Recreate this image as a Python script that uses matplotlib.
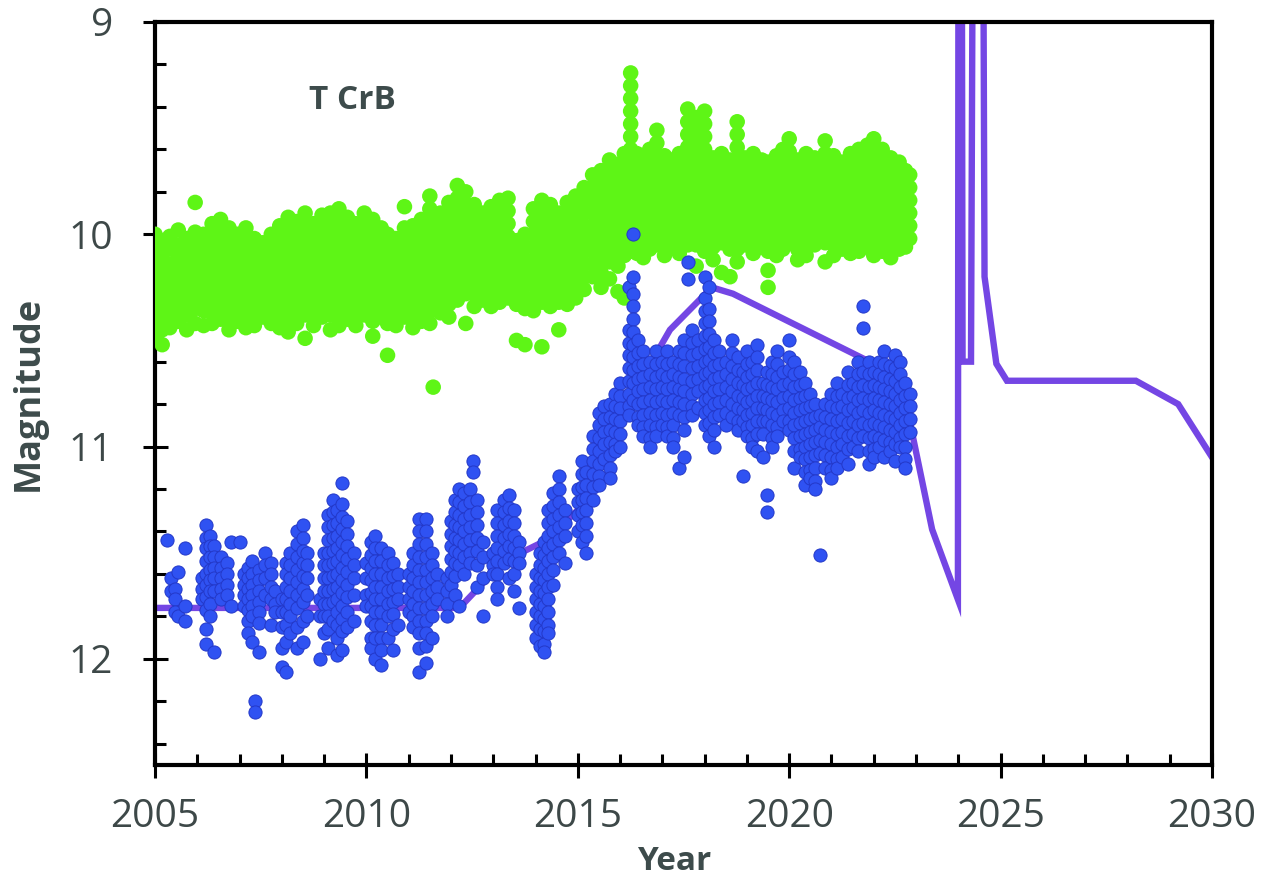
import matplotlib
matplotlib.use("Agg")
import matplotlib.pyplot as plt
from matplotlib.ticker import MultipleLocator, FixedLocator
import numpy as np

# ---------------- data ----------------
# Green series: observation epochs (columns) and the magnitudes seen in each column
green_years = [
    2005.00, 2005.17, 2005.35, 2005.55, 2005.75, 2005.95, 2006.15, 2006.35, 2006.55, 2006.75,
    2006.95, 2007.15, 2007.35, 2007.55, 2007.75, 2007.95, 2008.15, 2008.35, 2008.55, 2008.75,
    2008.95, 2009.15, 2009.35, 2009.55, 2009.75, 2009.95, 2010.15, 2010.35, 2010.50, 2010.70,
    2010.90, 2011.10, 2011.30, 2011.50, 2011.58, 2011.75, 2011.95, 2012.15, 2012.35, 2012.55,
    2012.75, 2012.95, 2013.15, 2013.35, 2013.55, 2013.75, 2013.95, 2014.15, 2014.35, 2014.55,
    2014.75, 2014.95, 2015.15, 2015.35, 2015.55, 2015.75, 2015.95, 2016.10, 2016.25, 2016.40,
    2016.55, 2016.70, 2016.87, 2017.05, 2017.20, 2017.40, 2017.60, 2017.80, 2018.00, 2018.20,
    2018.40, 2018.60, 2018.77, 2018.95, 2019.15, 2019.35, 2019.50, 2019.70, 2019.85, 2020.00,
    2020.20, 2020.40, 2020.60, 2020.85, 2021.05, 2021.25, 2021.45, 2021.65, 2021.85, 2022.00,
    2022.20, 2022.40, 2022.60, 2022.75, 2022.85,
]
green_mags = [
    [10.0, 10.06, 10.12, 10.18, 10.24, 10.3, 10.36, 10.42, 10.48],
    [10.03, 10.09, 10.15, 10.21, 10.27, 10.33, 10.39, 10.45, 10.52],
    [10.01, 10.07, 10.14, 10.2, 10.26, 10.32, 10.38, 10.44],
    [9.98, 10.05, 10.11, 10.17, 10.23, 10.29, 10.35, 10.41],
    [10.02, 10.08, 10.14, 10.2, 10.26, 10.32, 10.38, 10.45],
    [9.85, 9.99, 10.05, 10.11, 10.17, 10.23, 10.29, 10.35, 10.42],
    [10.0, 10.06, 10.12, 10.18, 10.24, 10.3, 10.36, 10.43],
    [9.95, 10.01, 10.07, 10.13, 10.19, 10.25, 10.31, 10.37, 10.42],
    [9.93, 9.99, 10.05, 10.11, 10.17, 10.23, 10.29, 10.35, 10.4],
    [9.97, 10.03, 10.09, 10.15, 10.21, 10.27, 10.33, 10.39, 10.45],
    [10.0, 10.06, 10.12, 10.18, 10.24, 10.3, 10.36, 10.41],
    [9.97, 10.03, 10.09, 10.15, 10.21, 10.27, 10.33, 10.39, 10.44],
    [10.02, 10.08, 10.14, 10.2, 10.26, 10.32, 10.38, 10.43],
    [10.04, 10.1, 10.16, 10.22, 10.28, 10.34, 10.39],
    [10.0, 10.06, 10.12, 10.18, 10.24, 10.3, 10.36, 10.42],
    [9.96, 10.02, 10.08, 10.14, 10.2, 10.26, 10.32, 10.38, 10.44],
    [9.92, 9.98, 10.04, 10.1, 10.16, 10.22, 10.28, 10.34, 10.4, 10.46],
    [9.94, 10.0, 10.06, 10.12, 10.18, 10.24, 10.3, 10.36, 10.42],
    [9.9, 9.96, 10.02, 10.08, 10.14, 10.2, 10.26, 10.32, 10.38, 10.49],
    [9.95, 10.01, 10.07, 10.13, 10.19, 10.25, 10.31, 10.37, 10.43],
    [9.91, 9.97, 10.03, 10.09, 10.15, 10.21, 10.27, 10.33, 10.39],
    [9.9, 9.96, 10.02, 10.08, 10.14, 10.2, 10.26, 10.32, 10.38, 10.45],
    [9.88, 9.94, 10.0, 10.06, 10.12, 10.18, 10.24, 10.3, 10.36, 10.43],
    [9.92, 9.98, 10.04, 10.1, 10.16, 10.22, 10.28, 10.34, 10.4],
    [9.95, 10.01, 10.07, 10.13, 10.19, 10.25, 10.31, 10.37, 10.43],
    [9.9, 9.96, 10.02, 10.08, 10.14, 10.2, 10.26, 10.32, 10.38],
    [9.93, 9.99, 10.05, 10.11, 10.17, 10.23, 10.29, 10.35, 10.41, 10.48],
    [9.97, 10.03, 10.09, 10.15, 10.21, 10.27, 10.33, 10.39],
    [10.0, 10.06, 10.12, 10.18, 10.24, 10.3, 10.36, 10.42, 10.57],
    [10.02, 10.08, 10.14, 10.2, 10.26, 10.32, 10.38, 10.43],
    [9.87, 9.97, 10.03, 10.09, 10.15, 10.21, 10.27, 10.33, 10.39],
    [9.96, 10.02, 10.08, 10.14, 10.2, 10.26, 10.32, 10.38, 10.44],
    [9.93, 9.99, 10.05, 10.11, 10.17, 10.23, 10.29, 10.35, 10.41],
    [9.82, 9.88, 9.94, 10.0, 10.06, 10.12, 10.18, 10.24, 10.3, 10.36, 10.42],
    [10.72],
    [9.9, 9.96, 10.02, 10.08, 10.14, 10.2, 10.26, 10.32, 10.37],
    [9.85, 9.91, 9.97, 10.03, 10.09, 10.15, 10.21, 10.27, 10.33, 10.39],
    [9.77, 9.83, 9.89, 9.95, 10.01, 10.07, 10.13, 10.19, 10.25, 10.31],
    [9.8, 9.86, 9.92, 9.98, 10.04, 10.1, 10.16, 10.22, 10.28, 10.42],
    [9.86, 9.92, 9.98, 10.04, 10.1, 10.16, 10.22, 10.28, 10.34],
    [9.9, 9.96, 10.02, 10.08, 10.14, 10.2, 10.26, 10.31],
    [9.87, 9.93, 9.99, 10.05, 10.11, 10.17, 10.23, 10.29, 10.34],
    [9.84, 9.9, 9.96, 10.02, 10.08, 10.14, 10.2, 10.26, 10.32],
    [9.83, 9.89, 9.95, 10.01, 10.07, 10.13, 10.19, 10.25, 10.3],
    [10.03, 10.09, 10.15, 10.21, 10.27, 10.33, 10.5],
    [10.0, 10.06, 10.12, 10.18, 10.24, 10.3, 10.35, 10.52],
    [9.88, 9.94, 10.0, 10.06, 10.12, 10.18, 10.24, 10.3, 10.36],
    [9.84, 9.9, 9.96, 10.02, 10.08, 10.14, 10.2, 10.26, 10.32, 10.53],
    [9.86, 9.92, 9.98, 10.04, 10.1, 10.16, 10.22, 10.28, 10.34],
    [9.9, 9.96, 10.02, 10.08, 10.14, 10.2, 10.26, 10.32, 10.45],
    [9.85, 9.91, 9.97, 10.03, 10.09, 10.15, 10.21, 10.27, 10.33],
    [9.82, 9.88, 9.94, 10.0, 10.06, 10.12, 10.18, 10.24, 10.3],
    [9.78, 9.84, 9.9, 9.96, 10.02, 10.08, 10.14, 10.2, 10.26],
    [9.72, 9.78, 9.84, 9.9, 9.96, 10.02, 10.08, 10.14, 10.2],
    [9.7, 9.76, 9.82, 9.88, 9.94, 10.0, 10.06, 10.12, 10.18, 10.25],
    [9.65, 9.71, 9.77, 9.83, 9.89, 9.95, 10.01, 10.07, 10.13, 10.21],
    [9.67, 9.73, 9.79, 9.85, 9.91, 9.97, 10.03, 10.09, 10.15, 10.27],
    [9.62, 9.68, 9.74, 9.8, 9.86, 9.92, 9.98, 10.04, 10.1, 10.3],
    [9.24, 9.3, 9.36, 9.42, 9.48, 9.54, 9.6, 9.66, 9.72, 9.78, 9.84, 9.9, 9.96, 10.02, 10.08],
    [9.62, 9.68, 9.74, 9.8, 9.86, 9.92, 9.98, 10.04, 10.09],
    [9.64, 9.7, 9.76, 9.82, 9.88, 9.94, 10.0, 10.06, 10.11],
    [9.6, 9.66, 9.72, 9.78, 9.84, 9.9, 9.96, 10.02, 10.07],
    [9.51, 9.57, 9.63, 9.69, 9.75, 9.81, 9.87, 9.93, 9.99, 10.05],
    [9.63, 9.69, 9.75, 9.81, 9.87, 9.93, 9.99, 10.05, 10.1],
    [9.65, 9.71, 9.77, 9.83, 9.89, 9.95, 10.01, 10.06],
    [9.62, 9.68, 9.74, 9.8, 9.86, 9.92, 9.98, 10.04, 10.09],
    [9.41, 9.47, 9.53, 9.59, 9.65, 9.71, 9.77, 9.83, 9.89, 9.95, 10.01, 10.05],
    [9.45, 9.51, 9.57, 9.63, 9.69, 9.75, 9.81, 9.87, 9.93, 9.99, 10.05, 10.15],
    [9.42, 9.48, 9.54, 9.6, 9.66, 9.72, 9.78, 9.84, 9.9, 9.96, 10.02, 10.08],
    [9.64, 9.7, 9.76, 9.82, 9.88, 9.94, 10.0, 10.06, 10.12],
    [9.62, 9.68, 9.74, 9.8, 9.86, 9.92, 9.98, 10.04, 10.18],
    [9.65, 9.71, 9.77, 9.83, 9.89, 9.95, 10.01, 10.07, 10.2],
    [9.47, 9.53, 9.59, 9.65, 9.71, 9.77, 9.83, 9.89, 9.95, 10.01, 10.07, 10.13],
    [9.64, 9.7, 9.76, 9.82, 9.88, 9.94, 10.0, 10.05],
    [9.62, 9.68, 9.74, 9.8, 9.86, 9.92, 9.98, 10.04, 10.09],
    [9.65, 9.71, 9.77, 9.83, 9.89, 9.95, 10.01, 10.06],
    [9.66, 9.72, 9.78, 9.84, 9.9, 9.96, 10.02, 10.08, 10.17, 10.25],
    [9.63, 9.69, 9.75, 9.81, 9.87, 9.93, 9.99, 10.05, 10.1],
    [9.6, 9.66, 9.72, 9.78, 9.84, 9.9, 9.96, 10.02, 10.07],
    [9.55, 9.61, 9.67, 9.73, 9.79, 9.85, 9.91, 9.97, 10.03],
    [9.65, 9.71, 9.77, 9.83, 9.89, 9.95, 10.01, 10.07, 10.12],
    [9.62, 9.68, 9.74, 9.8, 9.86, 9.92, 9.98, 10.04, 10.1],
    [9.64, 9.7, 9.76, 9.82, 9.88, 9.94, 10.0, 10.05],
    [9.56, 9.62, 9.68, 9.74, 9.8, 9.86, 9.92, 9.98, 10.04, 10.13],
    [9.63, 9.69, 9.75, 9.81, 9.87, 9.93, 9.99, 10.05, 10.1],
    [9.66, 9.72, 9.78, 9.84, 9.9, 9.96, 10.02, 10.07],
    [9.62, 9.68, 9.74, 9.8, 9.86, 9.92, 9.98, 10.04, 10.09],
    [9.6, 9.66, 9.72, 9.78, 9.84, 9.9, 9.96, 10.02, 10.08],
    [9.58, 9.64, 9.7, 9.76, 9.82, 9.88, 9.94, 10.0, 10.06],
    [9.55, 9.61, 9.67, 9.73, 9.79, 9.85, 9.91, 9.97, 10.03, 10.1],
    [9.6, 9.66, 9.72, 9.78, 9.84, 9.9, 9.96, 10.02, 10.08],
    [9.64, 9.7, 9.76, 9.82, 9.88, 9.94, 10.0, 10.06, 10.11],
    [9.66, 9.72, 9.78, 9.84, 9.9, 9.96, 10.02, 10.07],
    [9.7, 9.76, 9.82, 9.88, 9.94, 10.0, 10.06],
    [9.72, 9.78, 9.84, 9.9, 9.96, 10.02],
]

# Blue series: observation epochs (columns) and the magnitudes seen in each column
blue_years = [
    2005.28, 2005.38, 2005.47, 2005.55, 2005.72,
    2006.10, 2006.20, 2006.30, 2006.40, 2006.55, 2006.70, 2006.80, 2007.00,
    2007.10, 2007.20, 2007.30, 2007.37, 2007.45, 2007.60, 2007.75, 2007.85,
    2008.00, 2008.10, 2008.20, 2008.35, 2008.50, 2008.60,
    2008.90, 2009.00, 2009.10, 2009.20, 2009.30, 2009.42, 2009.55, 2009.70,
    2010.00, 2010.10, 2010.20, 2010.35, 2010.50, 2010.62, 2010.75,
    2011.00, 2011.10, 2011.25, 2011.40, 2011.55, 2011.68,
    2011.90, 2012.00, 2012.10, 2012.20, 2012.32, 2012.45, 2012.52, 2012.62, 2012.75,
    2013.00, 2013.10, 2013.25, 2013.38, 2013.50, 2013.62,
    2014.00, 2014.10, 2014.20, 2014.30, 2014.42, 2014.55, 2014.70,
    2015.00, 2015.10, 2015.20, 2015.35, 2015.50, 2015.62, 2015.75, 2015.88, 2016.00,
    2016.20, 2016.30, 2016.42, 2016.55, 2016.70, 2016.85,
    2017.00, 2017.12, 2017.25, 2017.40, 2017.52, 2017.60, 2017.70, 2017.85,
    2018.00, 2018.10, 2018.22, 2018.35, 2018.50, 2018.65, 2018.78, 2018.90,
    2019.00, 2019.12, 2019.25, 2019.38, 2019.47, 2019.60, 2019.72, 2019.85,
    2020.00, 2020.12, 2020.25, 2020.38, 2020.50, 2020.62, 2020.73, 2020.85,
    2021.00, 2021.12, 2021.25, 2021.38, 2021.50, 2021.62, 2021.75, 2021.88,
    2022.00, 2022.12, 2022.25, 2022.38, 2022.50, 2022.62, 2022.75, 2022.85,
]
blue_mags = [
    [11.44], [11.62, 11.68], [11.67, 11.72, 11.78], [11.59, 11.8], [11.48, 11.75, 11.82],
    [11.62, 11.67, 11.72],
    [11.37, 11.43, 11.48, 11.54, 11.6, 11.65, 11.71, 11.77, 11.86, 11.93],
    [11.42, 11.47, 11.52, 11.58, 11.63, 11.68, 11.74, 11.8],
    [11.47, 11.52, 11.57, 11.62, 11.68, 11.97],
    [11.52, 11.57, 11.62, 11.67, 11.72], [11.55, 11.6, 11.65, 11.7], [11.45, 11.75], [11.45],
    [11.6, 11.65, 11.7, 11.75], [11.57, 11.62, 11.67, 11.72, 11.77, 11.82, 11.88],
    [11.54, 11.6, 11.65, 11.7, 11.75, 11.8, 11.92], [12.2, 12.25],
    [11.58, 11.63, 11.68, 11.73, 11.78, 11.83, 11.97], [11.5, 11.56, 11.62, 11.7],
    [11.55, 11.6, 11.66, 11.72, 11.84], [11.68, 11.74, 11.78],
    [11.72, 11.78, 11.85, 11.95, 12.04], [11.55, 11.6, 11.66, 11.72, 11.78, 11.84, 11.92, 12.06],
    [11.5, 11.56, 11.62, 11.68, 11.74, 11.8, 11.88],
    [11.4, 11.46, 11.52, 11.58, 11.64, 11.7, 11.76, 11.85, 11.95],
    [11.37, 11.43, 11.49, 11.55, 11.61, 11.67, 11.73, 11.82, 11.92],
    [11.5, 11.56, 11.62, 11.7, 11.8],
    [11.72, 11.8, 12.0], [11.5, 11.56, 11.62, 11.68, 11.74, 11.8, 11.88],
    [11.32, 11.38, 11.44, 11.5, 11.56, 11.62, 11.68, 11.74, 11.8, 11.86, 11.95],
    [11.25, 11.31, 11.37, 11.43, 11.49, 11.55, 11.61, 11.67, 11.73, 11.82],
    [11.3, 11.36, 11.42, 11.48, 11.54, 11.6, 11.66, 11.72, 11.78, 11.84, 11.9, 11.98],
    [11.17, 11.27, 11.33, 11.39, 11.45, 11.51, 11.57, 11.63, 11.69, 11.75, 11.81, 11.87, 11.96],
    [11.35, 11.41, 11.47, 11.53, 11.59, 11.65, 11.71, 11.78, 11.85],
    [11.5, 11.56, 11.62, 11.7, 11.82],
    [11.55, 11.62, 11.7, 11.75],
    [11.45, 11.51, 11.57, 11.63, 11.69, 11.75, 11.82, 11.9, 11.95],
    [11.42, 11.48, 11.54, 11.6, 11.66, 11.72, 11.78, 11.84, 11.9, 12.0],
    [11.48, 11.54, 11.6, 11.66, 11.72, 11.78, 11.84, 11.9, 11.96, 12.03],
    [11.5, 11.56, 11.62, 11.68, 11.74, 11.8, 11.9],
    [11.55, 11.61, 11.67, 11.73, 11.79, 11.86, 11.96],
    [11.6, 11.66, 11.72, 11.84],
    [11.6, 11.66, 11.72, 11.78], [11.5, 11.56, 11.62, 11.68, 11.74, 11.8, 11.85],
    [11.34, 11.4, 11.46, 11.52, 11.58, 11.64, 11.7, 11.76, 11.82, 11.88, 11.95, 12.06],
    [11.34, 11.4, 11.46, 11.52, 11.58, 11.64, 11.7, 11.76, 11.82, 11.88, 11.94, 12.02],
    [11.5, 11.56, 11.62, 11.68, 11.74, 11.8, 11.9], [11.6, 11.66, 11.72],
    [11.62, 11.68, 11.74, 11.8], [11.35, 11.41, 11.47, 11.53, 11.59, 11.65],
    [11.25, 11.31, 11.37, 11.43, 11.49, 11.55, 11.61, 11.7],
    [11.2, 11.26, 11.32, 11.38, 11.44, 11.5, 11.56, 11.75],
    [11.22, 11.28, 11.34, 11.4, 11.46, 11.52, 11.6],
    [11.2, 11.26, 11.32, 11.38, 11.44, 11.5, 11.55], [11.07, 11.12],
    [11.25, 11.31, 11.37, 11.43, 11.49, 11.56, 11.66], [11.45, 11.52, 11.62, 11.8],
    [11.5, 11.56, 11.6], [11.3, 11.36, 11.42, 11.48, 11.54, 11.6, 11.66, 11.72],
    [11.25, 11.31, 11.37, 11.43, 11.49, 11.55],
    [11.23, 11.29, 11.35, 11.41, 11.47, 11.53, 11.62],
    [11.3, 11.36, 11.42, 11.48, 11.54, 11.6, 11.68], [11.45, 11.5, 11.55, 11.76],
    [11.6, 11.66, 11.72, 11.78, 11.84, 11.9],
    [11.5, 11.56, 11.62, 11.68, 11.74, 11.8, 11.86, 11.94],
    [11.45, 11.51, 11.57, 11.63, 11.69, 11.75, 11.81, 11.87, 11.93, 11.97],
    [11.3, 11.36, 11.42, 11.48, 11.54, 11.6, 11.66, 11.72, 11.78, 11.84, 11.88],
    [11.22, 11.28, 11.34, 11.4, 11.46, 11.52, 11.58, 11.65],
    [11.14, 11.2, 11.26, 11.32, 11.38, 11.44, 11.5], [11.3, 11.36, 11.42, 11.55],
    [11.2, 11.26, 11.32, 11.4], [11.07, 11.13, 11.19, 11.25, 11.31, 11.37, 11.45],
    [11.12, 11.18, 11.24, 11.3, 11.36, 11.42, 11.5],
    [10.95, 11.01, 11.07, 11.13, 11.19, 11.25],
    [10.84, 10.9, 10.96, 11.02, 11.08, 11.14, 11.18],
    [10.81, 10.87, 10.93, 10.99, 11.06],
    [10.8, 10.86, 10.92, 10.98, 11.04, 11.1, 11.15],
    [10.75, 10.81, 10.87, 10.93, 10.99, 11.02],
    [10.7, 10.76, 10.82, 10.88, 10.94, 11.0],
    [10.25, 10.45, 10.51, 10.57, 10.63, 10.69, 10.75, 10.81, 10.85],
    [10.0, 10.2, 10.28, 10.34, 10.4, 10.46, 10.52, 10.58, 10.64, 10.7, 10.78],
    [10.5, 10.56, 10.62, 10.68, 10.74, 10.8, 10.86, 10.9],
    [10.55, 10.61, 10.67, 10.73, 10.79, 10.85, 10.91, 10.95],
    [10.6, 10.66, 10.72, 10.78, 10.84, 10.9, 10.96, 11.0],
    [10.55, 10.61, 10.67, 10.73, 10.79, 10.85, 10.91, 10.95],
    [10.6, 10.66, 10.72, 10.78, 10.84, 10.9],
    [10.55, 10.61, 10.67, 10.73, 10.79, 10.85, 10.91, 10.95],
    [10.6, 10.66, 10.72, 10.78, 10.84, 10.9, 10.96, 11.0],
    [10.55, 10.61, 10.67, 10.73, 10.79, 10.85, 11.1],
    [10.5, 10.56, 10.62, 10.68, 10.74, 10.8, 10.86, 10.92, 11.05], [10.13, 10.21],
    [10.45, 10.51, 10.57, 10.63, 10.69, 10.75, 10.81, 10.85],
    [10.5, 10.56, 10.62, 10.68, 10.74, 10.82],
    [10.2, 10.3, 10.36, 10.42, 10.48, 10.54, 10.6, 10.66, 10.72, 10.78, 10.84, 10.9],
    [10.25, 10.35, 10.41, 10.47, 10.53, 10.59, 10.65, 10.71, 10.77, 10.83, 10.89, 10.95],
    [10.5, 10.56, 10.62, 10.68, 10.74, 10.8, 10.86, 10.92, 11.0],
    [10.55, 10.61, 10.67, 10.73, 10.79, 10.85],
    [10.6, 10.66, 10.72, 10.78, 10.84, 10.9],
    [10.5, 10.56, 10.62, 10.68, 10.74, 10.8, 10.86],
    [10.58, 10.64, 10.7, 10.76, 10.82, 10.88, 10.92],
    [10.65, 10.71, 10.77, 10.83, 10.88, 11.14],
    [10.55, 10.61, 10.67, 10.73, 10.79, 10.85, 10.91, 10.95],
    [10.6, 10.66, 10.72, 10.78, 10.84, 10.9, 10.96, 11.0],
    [10.52, 10.58, 10.64, 10.7, 10.76, 10.82, 10.88, 10.94, 11.02],
    [10.7, 10.76, 10.82, 10.88, 10.94, 11.05],
    [10.65, 10.71, 10.77, 10.83, 10.88, 11.23, 11.31],
    [10.6, 10.66, 10.72, 10.78, 10.84, 10.9, 10.96, 11.0],
    [10.55, 10.61, 10.67, 10.73, 10.79, 10.85, 10.91, 10.95],
    [10.65, 10.71, 10.77, 10.83, 10.88],
    [10.5, 10.58, 10.64, 10.7, 10.76, 10.82, 10.88, 10.92],
    [10.6, 10.66, 10.72, 10.78, 10.84, 10.9, 10.96, 11.02, 11.1],
    [10.65, 10.71, 10.77, 10.83, 10.89, 10.95, 11.01, 11.05],
    [10.7, 10.76, 10.82, 10.88, 10.94, 11.0, 11.06, 11.12, 11.18],
    [10.75, 10.81, 10.87, 10.93, 10.99, 11.05, 11.11, 11.15],
    [10.8, 10.86, 10.92, 10.98, 11.04, 11.1, 11.16, 11.2],
    [10.85, 10.91, 10.97, 11.03, 11.51],
    [10.8, 10.86, 10.92, 10.98, 11.04, 11.1],
    [10.75, 10.81, 10.87, 10.93, 10.99, 11.05, 11.11, 11.15],
    [10.7, 10.76, 10.82, 10.88, 10.94, 11.0, 11.06, 11.1],
    [10.75, 10.81, 10.87, 10.93, 10.99, 11.05],
    [10.65, 10.71, 10.77, 10.83, 10.89, 10.95, 11.01, 11.08],
    [10.7, 10.76, 10.82, 10.88, 10.94, 11.0],
    [10.6, 10.66, 10.72, 10.78, 10.84, 10.9, 10.96, 11.02],
    [10.34, 10.44, 10.65, 10.71, 10.77, 10.83, 10.89, 10.95],
    [10.6, 10.66, 10.72, 10.78, 10.84, 10.9, 10.96, 11.02, 11.08],
    [10.65, 10.71, 10.77, 10.83, 10.89, 10.95, 11.01, 11.05],
    [10.6, 10.66, 10.72, 10.78, 10.84, 10.9, 10.96, 11.0],
    [10.55, 10.61, 10.67, 10.73, 10.79, 10.85, 10.91, 10.97, 11.05],
    [10.62, 10.68, 10.74, 10.8, 10.86, 10.92, 10.98, 11.02],
    [10.57, 10.63, 10.69, 10.75, 10.81, 10.87, 10.93, 10.99, 11.07],
    [10.6, 10.66, 10.72, 10.78, 10.84, 10.9, 10.96, 11.0],
    [10.7, 10.76, 10.82, 10.88, 10.94, 11.0, 11.06, 11.1],
    [10.75, 10.81, 10.87, 10.93],
]

# Model light curve (purple line)
model_years = [2005.0, 2012.2, 2013.25, 2014.27, 2015.2, 2015.9, 2016.4, 2017.18,
               2018.17, 2018.67, 2021.9, 2022.3, 2022.86, 2023.38, 2023.99,
               2024.03, 2024.1, 2024.3, 2024.47, 2024.62, 2024.9, 2025.15,
               2028.2, 2029.2, 2030.0]
model_mags = [11.76, 11.76, 11.54, 11.44, 11.26, 10.92, 10.72, 10.45,
              10.25, 10.28, 10.6, 10.68, 10.89, 11.39, 11.72,
              2.0, 10.6, 10.6, 2.0, 10.2, 10.61, 10.69,
              10.69, 10.8, 11.05]

x_ticks = [2005, 2010, 2015, 2020, 2025, 2030]
y_ticks = [9, 10, 11, 12]
star_label = "T CrB"
x_label = "Year"
y_label = "Magnitude"

# ---------------- build ----------------
gx = np.concatenate([np.full(len(m), t) for t, m in zip(green_years, green_mags)])
gy = np.concatenate([np.asarray(m, float) for m in green_mags])
bx = np.concatenate([np.full(len(m), t) for t, m in zip(blue_years, blue_mags)])
by = np.concatenate([np.asarray(m, float) for m in blue_mags])

plt.rcParams['font.family'] = ['Open Sans', 'DejaVu Sans']

W, H = 1265, 881
fig = plt.figure(figsize=(W / 100, H / 100), dpi=100)
ax = fig.add_axes([155 / W, 1 - 765 / H, (1212 - 155) / W, (765 - 22) / H])

ax.plot(model_years, model_mags, color="#7446e4", lw=4.6, zorder=2,
        solid_joinstyle="miter")
ax.scatter(gx, gy, s=125, color="#5ef516", edgecolors="none", zorder=3)
ax.scatter(bx, by, s=90, color="#2f52f2", edgecolors="#2338c8", linewidths=0.7, zorder=4)

ax.set_xlim(2005, 2030)
ax.set_ylim(12.5, 9)

ax.xaxis.set_major_locator(FixedLocator(x_ticks))
ax.xaxis.set_minor_locator(MultipleLocator(1))
ax.yaxis.set_major_locator(FixedLocator(y_ticks))
ax.yaxis.set_minor_locator(MultipleLocator(0.2))

tick_col = "#3d4848"
ax.tick_params(which="major", direction="inout", length=18, width=2.2,
               labelsize=28, labelcolor=tick_col, color="black")
ax.tick_params(axis="x", which="major", pad=15)
ax.tick_params(axis="y", which="major", pad=21)
ax.tick_params(which="minor", direction="in", length=8, width=2.2, color="black")
ax.set_xticklabels([str(t) for t in x_ticks])
ax.set_yticklabels([str(t) for t in y_ticks])

for side in ["left", "bottom", "top", "right"]:
    ax.spines[side].set_linewidth(3)
    ax.spines[side].set_color("black")

lab_col = "#3d4b4b"
fig.text(674 / W, 1 - 862 / H, x_label, ha="center", va="center",
         fontsize=24, fontweight="bold", color=lab_col)
fig.text(29 / W, 1 - 393 / H, y_label, ha="center", va="center", rotation=90,
         fontsize=26, fontweight="bold", color=lab_col)

ax.text(2009.66, 9.37, star_label, ha="center", va="center",
        fontsize=24, fontweight="bold", color="#3d4b4b")

fig.savefig("out.png", dpi=100)
